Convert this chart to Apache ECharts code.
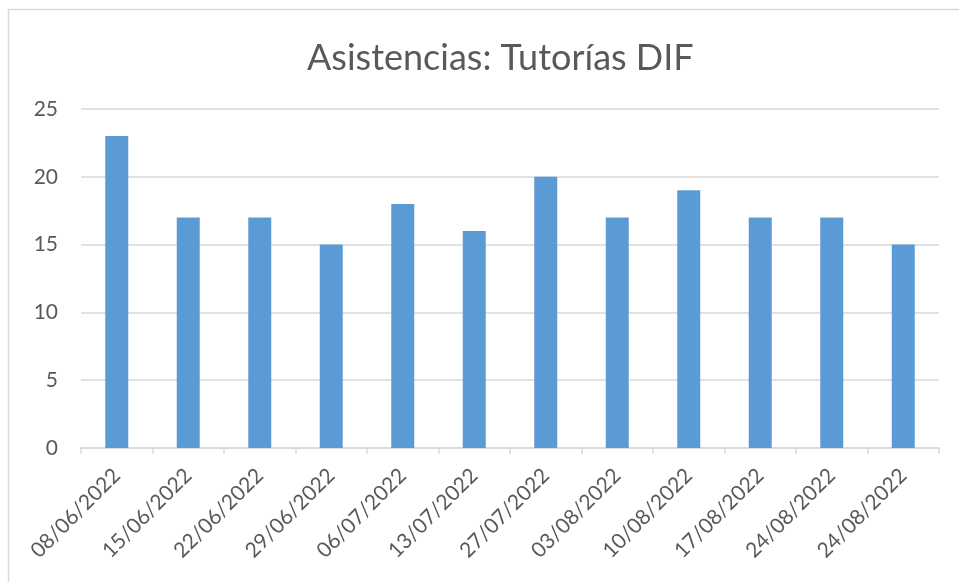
<!DOCTYPE html>
<html>
<head>
<meta charset="utf-8">
<script src="https://cdn.jsdelivr.net/npm/echarts@6/dist/echarts.min.js"></script>
<style>
  html, body { margin: 0; padding: 0; background: #fff; }
  #main { width: 959px; height: 582px; }
</style>
</head>
<body>
<div id="main"></div>
<script>
var fechas = ['08/06/2022', '15/06/2022', '22/06/2022', '29/06/2022', '06/07/2022', '13/07/2022',
              '27/07/2022', '03/08/2022', '10/08/2022', '17/08/2022', '24/08/2022', '24/08/2022'];
var asistencias = [23, 17, 17, 15, 18, 16, 20, 17, 19, 17, 17, 15];
var titulo = 'Asistencias: Tutorías DIF';

var myChart = echarts.init(document.getElementById('main'));
var option = {
    animation: false,
    backgroundColor: '#fff',
    graphic: [{
        type: 'rect',
        shape: { x: 8.5, y: 9.5, width: 1000, height: 700 },
        style: { fill: 'none', stroke: '#d9d9d9', lineWidth: 1.5 },
        silent: true
    }],
    title: {
        text: titulo,
        left: 302,
        top: 35,
        textStyle: { fontFamily: 'Lato', fontSize: 36, fontWeight: 'normal', color: '#595959' }
    },
    grid: { left: 81, right: 20, top: 109, bottom: 134 },
    xAxis: {
        type: 'category',
        data: fechas,
        axisLine: { lineStyle: { color: '#d9d9d9', width: 1.5 } },
        axisTick: { show: true, length: 6, lineStyle: { color: '#d9d9d9', width: 1.5 } },
        axisLabel: {
            rotate: 45,
            interval: 0,
            margin: 24,
            fontFamily: 'Lato',
            fontSize: 21,
            color: '#595959'
        }
    },
    yAxis: {
        type: 'value',
        min: 0,
        max: 25,
        interval: 5,
        axisLine: { show: false },
        axisTick: { show: false },
        splitLine: { lineStyle: { color: '#d9d9d9', width: 1.5 } },
        axisLabel: { margin: 23, fontFamily: 'Lato', fontSize: 21, color: '#595959' }
    },
    series: [{
        type: 'bar',
        data: asistencias,
        barWidth: 23,
        itemStyle: { color: '#5b9bd5' }
    }]
};
myChart.setOption(option);
</script>
</body>
</html>
